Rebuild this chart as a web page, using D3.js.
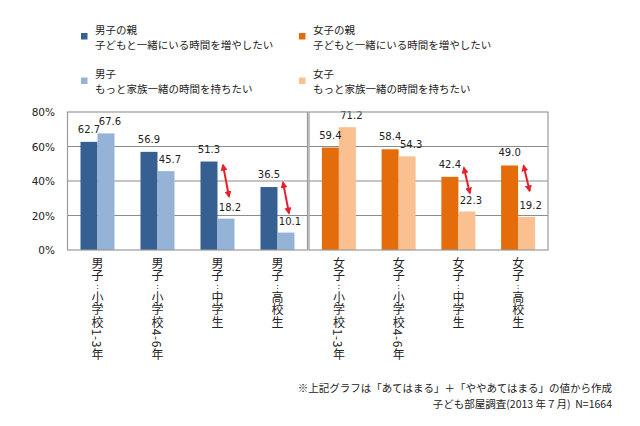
<!DOCTYPE html>
<html><head><meta charset="utf-8">
<script src="https://cdn.jsdelivr.net/npm/d3@7"></script>
<style>
html,body{margin:0;padding:0;background:#fff;}
svg{display:block;}
.vcat{writing-mode:vertical-rl;text-orientation:mixed;letter-spacing:0.6px;}
.vcat .up{text-orientation:upright;font-size:8px;}
</style>
</head><body>
<svg id="chart" width="640" height="426"></svg>
<script>
// ---- data ----
const boyCategories = ["男子:小学校1-3年", "男子:小学校4-6年", "男子:中学生", "男子:高校生"];
const girlCategories = ["女子:小学校1-3年", "女子:小学校4-6年", "女子:中学生", "女子:高校生"];
const boyParentValues = [62.7, 56.9, 51.3, 36.5];
const boyChildValues = [67.6, 45.7, 18.2, 10.1];
const girlParentValues = [59.4, 58.4, 42.4, 49.0];
const girlChildValues = [71.2, 54.3, 22.3, 19.2];
const yTicks = [0, 20, 40, 60, 80];
const legendNames = [
  ["男子の親", "子どもと一緒にいる時間を増やしたい"],
  ["女子の親", "子どもと一緒にいる時間を増やしたい"],
  ["男子", "もっと家族一緒の時間を持ちたい"],
  ["女子", "もっと家族一緒の時間を持ちたい"]
];
// double arrows (panel, group index, top value, bottom value)
const arrowPanel = [0, 0, 1, 1];
const arrowGroup = [2, 3, 2, 3];
const arrowTop = [49.3, 39.2, 47.7, 48.9];
const arrowBottom = [30.9, 21.3, 32.9, 34.2];
const footnote1 = "※上記グラフは「あてはまる」＋「ややあてはまる」の値から作成";
const footnote2 = "子ども部屋調査(2013 年７月)  N=1664";

// ---- styles ----
const colors = {boyParent: "#376092", boyChild: "#95b3d7", girlParent: "#e46c0a", girlChild: "#fac090"};
const numFont = "'DejaVu Sans', Verdana, sans-serif";
const jpFont = "'Noto Sans CJK JP', 'Noto Sans CJK SC', sans-serif";

const svg = d3.select("#chart");
const y = d3.scaleLinear().domain([0, 80]).range([250, 112]);

const panels = [
  {x0: 67.5, x1: 307.5, cats: boyCategories, a: boyParentValues, b: boyChildValues, ca: colors.boyParent, cb: colors.boyChild},
  {x0: 309, x1: 548, cats: girlCategories, a: girlParentValues, b: girlChildValues, ca: colors.girlParent, cb: colors.girlChild}
];
const barW = 17;

// gridlines
panels.forEach(p => {
  svg.append("g").selectAll("line").data(yTicks.filter(t => t > 0 && t < 80)).join("line")
    .attr("x1", p.x0).attr("x2", p.x1)
    .attr("y1", d => y(d)).attr("y2", d => y(d))
    .attr("stroke", "#8c8c8c").attr("stroke-width", 1);
});

// y axis labels
svg.append("g").selectAll("text").data(yTicks).join("text")
  .attr("x", 55).attr("y", d => y(d) + 4)
  .attr("text-anchor", "end")
  .attr("font-family", numFont).attr("font-size", "10.5px").attr("fill", "#222")
  .text(d => d + "%");

const xScales = [];
panels.forEach((p, pi) => {
  const x = d3.scaleBand().domain(d3.range(p.cats.length)).range([p.x0, p.x1]).padding(0);
  xScales.push(x);
  const g = svg.append("g");
  const cx = i => x(i) + x.bandwidth() / 2;
  // bars
  g.selectAll("rect.a").data(p.a).join("rect").attr("class", "a")
    .attr("x", (d, i) => cx(i) - barW).attr("width", barW)
    .attr("y", d => y(d)).attr("height", d => y(0) - y(d))
    .attr("fill", p.ca);
  g.selectAll("rect.b").data(p.b).join("rect").attr("class", "b")
    .attr("x", (d, i) => cx(i)).attr("width", barW)
    .attr("y", d => y(d)).attr("height", d => y(0) - y(d))
    .attr("fill", p.cb);
  // value labels
  g.selectAll("text.la").data(p.a).join("text").attr("class", "la")
    .attr("x", (d, i) => cx(i) - barW / 2).attr("y", d => y(d) - 9)
    .attr("text-anchor", "middle").attr("font-family", numFont).attr("font-size", "10px").attr("fill", "#222")
    .text(d => d.toFixed(1));
  g.selectAll("text.lb").data(p.b).join("text").attr("class", "lb")
    .attr("x", (d, i) => cx(i) + barW / 2 + 4).attr("y", d => y(d) - 8)
    .attr("text-anchor", "middle").attr("font-family", numFont).attr("font-size", "10px").attr("fill", "#222")
    .text(d => d.toFixed(1));
  // panel border
  g.append("rect").attr("x", p.x0).attr("y", y(80)).attr("width", p.x1 - p.x0).attr("height", y(0) - y(80))
    .attr("fill", "none").attr("stroke", "#9a9a9a").attr("stroke-width", 1.2);
  // category labels (vertical, one text each)
  g.selectAll("text.vcat").data(p.cats).join("text").attr("class", "vcat")
    .attr("x", (d, i) => cx(i)).attr("y", 257)
    .attr("font-family", jpFont).attr("font-size", "12px").attr("fill", "#222")
    .each(function(d) {
      const t = d3.select(this);
      const parts = d.split(":");
      t.append("tspan").text(parts[0]);
      t.append("tspan").attr("class", "up").text(":");
      t.append("tspan").text(parts[1]);
    });
});

// arrows
const defs = svg.append("defs");
defs.append("marker").attr("id", "ah").attr("viewBox", "0 0 10 10").attr("refX", 8).attr("refY", 5)
  .attr("markerWidth", 3.5).attr("markerHeight", 3.5).attr("orient", "auto-start-reverse")
  .attr("markerUnits", "strokeWidth")
  .append("path").attr("d", "M0,0 L10,5 L0,10 z").attr("fill", "#e8202a");
const arrowX = i => { const x = xScales[arrowPanel[i]]; return x(arrowGroup[i]) + x.bandwidth() / 2 + barW / 2; };
svg.append("g").selectAll("line").data(arrowTop).join("line")
  .attr("x1", (d, i) => arrowX(i) - 3)
  .attr("x2", (d, i) => arrowX(i) + 3)
  .attr("y1", d => y(d)).attr("y2", (d, i) => y(arrowBottom[i]))
  .attr("stroke", "#e8202a").attr("stroke-width", 2)
  .attr("marker-start", "url(#ah)").attr("marker-end", "url(#ah)");

// legend
const legendPos = [[81, 33], [299, 33], [81, 77.5], [299, 77.5]];
const legendColors = [colors.boyParent, colors.girlParent, colors.boyChild, colors.girlChild];
const lgd = svg.append("g");
legendNames.forEach((n, i) => {
  const [lx, ly] = legendPos[i];
  lgd.append("rect").attr("x", lx).attr("y", ly).attr("width", 6.5).attr("height", 6.5).attr("fill", legendColors[i]);
  const baseY = i < 2 ? 34 : 77.5;
  const line2 = i < 2 ? 48.5 : 93;
  lgd.append("text").attr("x", lx + 14).attr("y", baseY)
    .attr("font-family", jpFont).attr("font-size", "10.5px").attr("fill", "#222").text(n[0]);
  lgd.append("text").attr("x", lx + 14).attr("y", line2)
    .attr("font-family", jpFont).attr("font-size", "10.5px").attr("fill", "#222").text(n[1]);
});

// footnotes
svg.append("text").attr("x", 612).attr("y", 392).attr("text-anchor", "end")
  .attr("font-family", jpFont).attr("font-size", "10.5px").attr("fill", "#222").text(footnote1);
svg.append("text").attr("x", 612).attr("y", 407.5).attr("text-anchor", "end")
  .attr("font-family", jpFont).attr("font-size", "10.5px").attr("fill", "#222").style("white-space", "pre").text(footnote2);
</script>
</body></html>
